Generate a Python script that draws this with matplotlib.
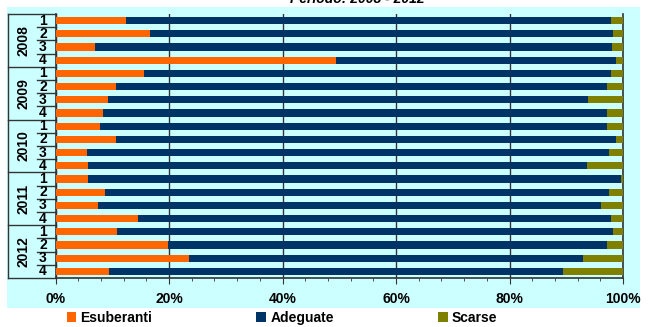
import matplotlib
matplotlib.use("Agg")
import matplotlib.pyplot as plt
import matplotlib.transforms as mtransforms
from matplotlib.lines import Line2D
from matplotlib.patches import Rectangle
from matplotlib.ticker import MultipleLocator, FuncFormatter

plt.rcParams['font.family'] = ['Liberation Sans', 'DejaVu Sans']

# dati: quote percentuali per trimestre
years = ['2008', '2009', '2010', '2011', '2012']
quarters = ['1', '2', '3', '4']
esuberanti = [12.4, 16.7, 7.0, 49.5,
              15.6, 10.7, 9.3, 8.4,
              7.8, 10.7, 5.6, 5.7,
              5.7, 8.7, 7.5, 14.5,
              10.8, 19.8, 23.5, 9.4]
scarse = [2.2, 1.7, 1.9, 1.2,
          2.1, 2.8, 6.1, 2.8,
          2.9, 1.2, 2.4, 6.3,
          0.3, 2.4, 3.8, 2.1,
          1.7, 2.9, 7.0, 10.5]
adeguate = [100 - e - s for e, s in zip(esuberanti, scarse)]

W, H = 648, 327
fig = plt.figure(figsize=(W / 100, H / 100), dpi=100)
fig.patch.set_facecolor('white')
fig.patches.append(Rectangle((7 / W, 1 - 308 / H), 633 / W, 301 / H,
                             transform=fig.transFigure, facecolor='#CCFFFF',
                             edgecolor='none', zorder=-10))

ax = fig.add_axes([55.5 / W, 1 - 278 / H, 567.5 / W, 264 / H])
ax.set_facecolor('none')

pos = list(range(len(esuberanti)))
h = 0.55
ax.barh(pos, esuberanti, height=h, color='#FF6600', label='Esuberanti', zorder=3)
ax.barh(pos, adeguate, left=esuberanti, height=h, color='#003366',
        label='Adeguate', zorder=3)
left2 = [e + a for e, a in zip(esuberanti, adeguate)]
ax.barh(pos, scarse, left=left2, height=h, color='#808000', label='Scarse', zorder=3)

ax.set_xlim(0, 100)
ax.set_ylim(len(pos) - 0.5, -0.5)
ax.xaxis.set_major_locator(MultipleLocator(20))
ax.xaxis.set_minor_locator(MultipleLocator(4))
ax.xaxis.set_major_formatter(FuncFormatter(lambda v, p: f'{v:.0f}%'))
ax.tick_params(axis='x', which='major', labelsize=10, length=4, pad=6, color='#333333')
ax.tick_params(axis='x', which='minor', length=2.5, color='#333333')
for lbl in ax.get_xticklabels():
    lbl.set_fontweight('bold')
ax.set_yticks([])
ax.grid(axis='x', which='major', color='#333333', lw=1.0, zorder=1)
ax.spines['top'].set_visible(False)
for s in ['left', 'right', 'bottom']:
    ax.spines[s].set_color('#333333')
    ax.spines[s].set_linewidth(1.2)

# etichette anno / trimestre a sinistra
tr = mtransforms.blended_transform_factory(fig.transFigure, ax.transData)
x_box = 7.5 / W
x_q0 = 37 / W
x_ax = 55.5 / W
for k, yr in enumerate(years):
    ax.text(24 / W, 4 * k + 1.5, yr, transform=tr, rotation=90, ha='center',
            va='center', fontsize=10, fontweight='bold')
    for q, ql in enumerate(quarters):
        ax.text(43 / W, 4 * k + q, ql, transform=tr, ha='center', va='center',
                fontsize=10, fontweight='bold')
        if q < 3:
            ax.add_line(Line2D([x_q0, x_ax], [4 * k + q + 0.5] * 2, transform=tr,
                               color='#333333', lw=1, clip_on=False))
    ax.add_line(Line2D([x_box, x_ax], [4 * k - 0.5] * 2, transform=tr,
                       color='#333333', lw=1, clip_on=False))
ax.add_line(Line2D([x_box, x_ax], [len(pos) - 0.5] * 2, transform=tr,
                   color='#333333', lw=1, clip_on=False))
ax.add_line(Line2D([x_box, x_box], [-0.5, len(pos) - 0.5], transform=tr,
                   color='#333333', lw=1, clip_on=False))

fig.text(357 / W, 1 - 3 / H, 'Periodo: 2008 - 2012', ha='center', va='baseline',
         fontsize=10, fontweight='bold', fontstyle='italic')

fig.legend(loc='center', bbox_to_anchor=(282 / W, 1 - 318 / H), ncol=3,
           frameon=False, prop={'weight': 'bold', 'size': 10},
           handlelength=0.7, handleheight=0.7, handletextpad=0.3,
           columnspacing=7.5, borderaxespad=0)

fig.savefig('out.png', dpi=100, facecolor='white')
